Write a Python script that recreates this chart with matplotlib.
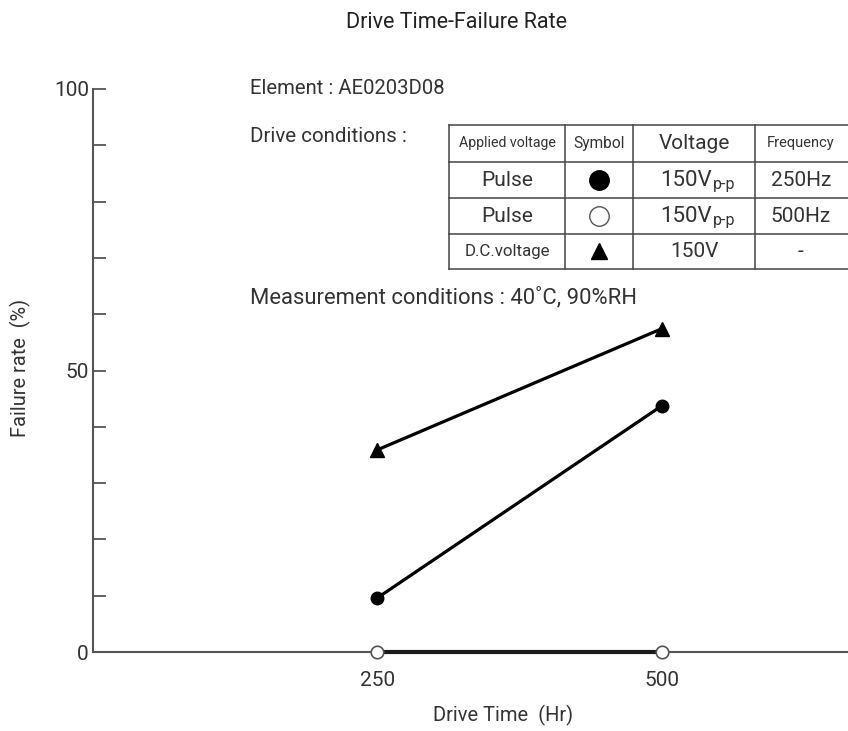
import numpy as np
import matplotlib
matplotlib.use('Agg')
import matplotlib.pyplot as plt
from matplotlib.lines import Line2D

# data
drive_time = [250, 500]
pulse_250hz = [9.6, 43.7]     # filled circle
pulse_500hz = [0, 0]          # open circle
dc_voltage = [35.9, 57.4]     # triangle

y_ticks = [0, 10, 20, 30, 40, 50, 60, 70, 80, 90, 100]
y_labels = ['0', '', '', '', '', '50', '', '', '', '', '100']

header = ['Applied voltage', 'Symbol', 'Voltage', 'Frequency']
applied = ['Pulse', 'Pulse', 'D.C.voltage']
voltage = ['150V', '150V', '150V']
voltage_sub = ['p-p', 'p-p', '']
frequency = ['250Hz', '500Hz', '-']

W, H = 848, 731
font = ['Roboto', 'DejaVu Sans']
txt = '#333333'
axc = '#555555'

fig = plt.figure(figsize=(W / 100, H / 100), dpi=100)
ax = fig.add_axes([93 / W, 1 - 652 / H, (W - 93) / W, (652 - 89) / H])

def fx(x):
    return x / W

def fy(y):
    return 1 - y / H

ax.plot(drive_time, dc_voltage, color='black', lw=2.3, marker='^', ms=10, zorder=3)
ax.plot(drive_time, pulse_250hz, color='black', lw=2.3, marker='o', ms=9, zorder=3)
ax.plot(drive_time, pulse_500hz, color='#1a1a1a', lw=3, marker='o', ms=9,
        mfc='white', mec='#555555', mew=1.2, zorder=4, clip_on=False)

ax.set_xlim(0, 664)
ax.set_ylim(0, 100)
for s in ['top', 'right']:
    ax.spines[s].set_visible(False)
for s in ['left', 'bottom']:
    ax.spines[s].set_color(axc)
    ax.spines[s].set_linewidth(1.5)
ax.set_yticks(y_ticks)
ax.set_yticklabels(y_labels)
ax.tick_params(axis='y', direction='in', length=9, width=1.3, color=axc, pad=3,
               labelsize=15, labelcolor=txt)
ax.set_xticks(drive_time)
ax.tick_params(axis='x', length=0, pad=14, labelsize=15, labelcolor=txt)
for lab in ax.get_xticklabels() + ax.get_yticklabels():
    lab.set_family(font)

fig.text(fx(457), fy(22), 'Drive Time-Failure Rate', family=font, fontsize=15.5,
         color='#222222', ha='center', va='center')
fig.text(fx(503), fy(715), 'Drive Time  (Hr)', family=font, fontsize=14.5,
         color=txt, ha='center', va='center')
fig.text(fx(20), fy(368), 'Failure rate  (%)', family=font, fontsize=14.4,
         color=txt, ha='center', va='center', rotation=90)

fig.text(fx(250), fy(88), 'Element : AE0203D08', family=font, fontsize=14.6,
         color=txt, ha='left', va='center')
fig.text(fx(250), fy(137), 'Drive conditions :', family=font, fontsize=14.8,
         color=txt, ha='left', va='center')
fig.text(fx(250), fy(298), 'Measurement conditions : 40\u02daC, 90%RH', family=font,
         fontsize=15.8, color=txt, ha='left', va='center')

# table
col_x = [449, 565, 633, 755, 880]
row_y = [125, 162, 198, 234, 269]
for x in col_x:
    fig.add_artist(Line2D([fx(x)] * 2, [fy(row_y[0]), fy(row_y[-1])], color='#444444', lw=1.1))
for y in row_y:
    fig.add_artist(Line2D([fx(col_x[0]), fx(col_x[-1])], [fy(y)] * 2, color='#444444', lw=1.1))

cx = [(col_x[i] + col_x[i + 1]) / 2 for i in range(4)]
cy = [(row_y[i] + row_y[i + 1]) / 2 for i in range(4)]
cx[0] = 507
cx[3] = 801
head_sizes = [10.2, 11.2, 15, 10.5]
for i, h in enumerate(header):
    fig.text(fx(cx[i]), fy(cy[0]), h, family=font, fontsize=head_sizes[i],
             color=txt, ha='center', va='center')
for r in range(3):
    y = cy[r + 1]
    fig.text(fx(cx[0]), fy(y), applied[r], family=font,
             fontsize=15 if r < 2 else 12.2, color=txt, ha='center', va='center')
    if voltage_sub[r]:
        fig.text(fx(712), fy(y), voltage[r], family=font, fontsize=16,
                 color=txt, ha='right', va='center')
        fig.text(fx(713), fy(y + 5), voltage_sub[r], family=font, fontsize=11.5,
                 color=txt, ha='left', va='center')
    else:
        fig.text(fx(694), fy(y), voltage[r], family=font, fontsize=15,
                 color=txt, ha='center', va='center')
    fig.text(fx(cx[3]), fy(y), frequency[r], family=font, fontsize=15,
             color=txt, ha='center', va='center')

markers = [('o', 'black', 'black', 14), ('o', 'white', '#555555', 14), ('^', 'black', 'black', 12)]
for r, (m, fc, ec, sz) in enumerate(markers):
    fig.add_artist(Line2D([fx(cx[1])], [fy(cy[r + 1])], marker=m, ms=sz, mfc=fc, mec=ec,
                          mew=1.0, ls='none'))

fig.savefig('out.png', dpi=100)
